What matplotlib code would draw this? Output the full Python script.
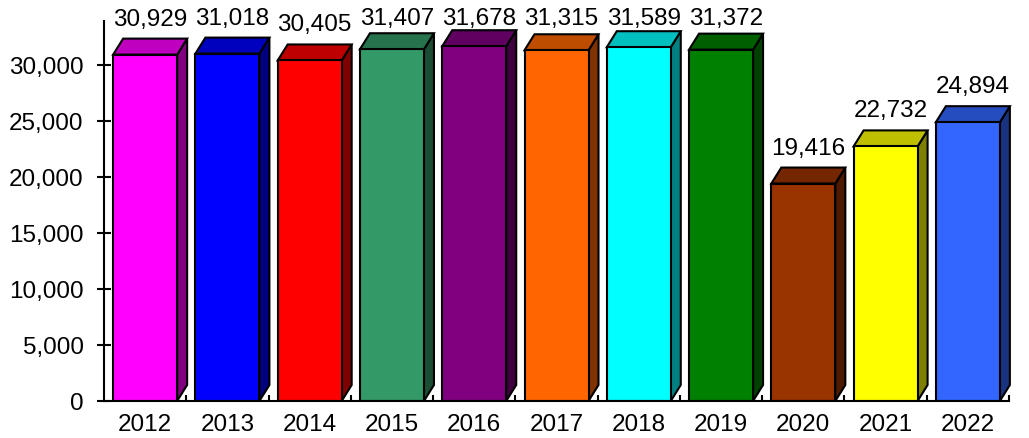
#!/usr/bin/env python3

"""
Yearly totals 2012-2022 drawn as pseudo-3D bars (front, top and side faces).
"""

import numpy as np
import matplotlib
from matplotlib import pyplot as plt
from matplotlib.patches import Polygon, Rectangle
from matplotlib.ticker import StrMethodFormatter, FixedLocator
from matplotlib.colors import to_rgb

matplotlib.use("Agg")

years = ['2012', '2013', '2014', '2015', '2016', '2017',
         '2018', '2019', '2020', '2021', '2022']
values = [30929, 31018, 30405, 31407, 31678, 31315,
          31589, 31372, 19416, 22732, 24894]
front_colors = ['#FF00FF', '#0000FF', '#FF0000', '#339966', '#800080', '#FF6600',
                '#00FFFF', '#008000', '#993300', '#FFFF00', '#3366FF']
y_ticks = [0, 5000, 10000, 15000, 20000, 25000, 30000]

font_size = 17.5
plt.rcParams.update({'font.family': ['Liberation Sans', 'DejaVu Sans'],
                     'font.size': font_size})

W, H = 1029, 439
fig = plt.figure(figsize=(W / 100, H / 100), dpi=100)

# axes geometry in pixels
ax_left, ax_right, ax_bottom = 104, 1009, 402
y_top = 33900
px_per_unit = 0.0112
ax_h = y_top * px_per_unit
ax = fig.add_axes([ax_left / W, (H - ax_bottom) / H,
                   (ax_right - ax_left) / W, ax_h / H])

n = len(years)
ax.set_xlim(-0.5, n - 0.5)
ax.set_ylim(0, y_top)

px_per_cat = (ax_right - ax_left) / n
bar_w = 64 / px_per_cat
dx = 10 / px_per_cat          # depth offset, horizontal
dy = 16 / px_per_unit         # depth offset, vertical
lw = 1.5


def shade(c, f):
    r, g, b = to_rgb(c)
    return (r * f, g * f, b * f)


for i, (v, c) in enumerate(zip(values, front_colors)):
    x0, x1 = i - bar_w / 2, i + bar_w / 2
    side = Polygon([(x1, 0), (x1 + dx, dy), (x1 + dx, v + dy), (x1, v)],
                   closed=True, facecolor=shade(c, 0.5), edgecolor='black',
                   linewidth=lw, clip_on=False, zorder=2, joinstyle='miter')
    top = Polygon([(x0, v), (x1, v), (x1 + dx, v + dy), (x0 + dx, v + dy)],
                  closed=True, facecolor=shade(c, 0.75), edgecolor='black',
                  linewidth=lw, clip_on=False, zorder=2, joinstyle='miter')
    front = Rectangle((x0, 0), bar_w, v, facecolor=c, edgecolor='black',
                      linewidth=lw, zorder=3, joinstyle='miter')
    for p in (side, top, front):
        ax.add_patch(p)

    label_y = min(v + dy + 14 / px_per_unit, (ax_bottom - 25) / px_per_unit)
    ax.text(i + dx / 2, label_y, f'{v:,}', ha='center', va='baseline',
            fontsize=font_size, zorder=5)

for s in ('top', 'right'):
    ax.spines[s].set_visible(False)
for s in ('left', 'bottom'):
    ax.spines[s].set_linewidth(lw)
    ax.spines[s].set_zorder(4)

ax.yaxis.set_major_locator(FixedLocator(y_ticks))
ax.yaxis.set_major_formatter(StrMethodFormatter('{x:,.0f}'))
ax.tick_params(axis='y', direction='inout', length=9.4, width=lw, pad=10,
               labelsize=font_size)

ax.set_xticks(range(n))
ax.set_xticklabels(years)
ax.set_xticks(np.arange(0.5, n, 1.0), minor=True)
ax.tick_params(axis='x', which='major', length=0, pad=9, labelsize=font_size)
ax.tick_params(axis='x', which='minor', direction='in', length=4.5, width=lw)

fig.savefig('out.png', dpi=100)
